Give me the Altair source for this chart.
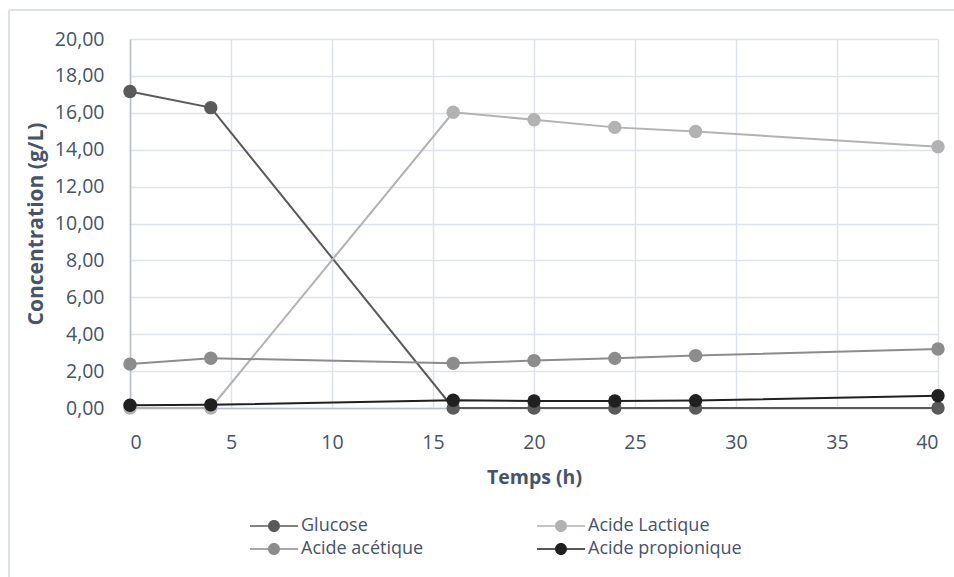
import altair as alt
import pandas as pd

# Sampling times (h)
temps = [0, 4, 16, 20, 24, 28, 40]

# Concentrations (g/L) per compound
glucose = [17.15, 16.28, 0.0, 0.0, 0.0, 0.0, 0.0]
acide_lactique = [0.0, 0.0, 16.03, 15.62, 15.21, 14.99, 14.16]
acide_acetique = [2.38, 2.70, 2.42, 2.57, 2.69, 2.84, 3.20]
acide_propionique = [0.15, 0.17, 0.42, 0.38, 0.38, 0.40, 0.66]

series_names = ["Glucose", "Acide Lactique", "Acide acétique", "Acide propionique"]
series_values = [glucose, acide_lactique, acide_acetique, acide_propionique]
series_colors = ["#5a5a5a", "#b2b2b2", "#8c8c8c", "#202020"]

rows = []
for order, (name, vals) in enumerate(zip(series_names, series_values)):
    for t, v in zip(temps, vals):
        rows.append({"Temps": t, "Concentration": v, "Serie": name, "ordre": order})
df = pd.DataFrame(rows)

FONT = "Open Sans"
TEXT = "#44546a"
FS = 19.5

x_enc = alt.X(
    "Temps:Q",
    scale=alt.Scale(domain=[0, 40], nice=False),
    axis=alt.Axis(
        title="Temps (h)",
        values=[0, 5, 10, 15, 20, 25, 30, 35, 40],
        labelPadding=25,
        titlePadding=17,
    ),
)
y_enc = alt.Y(
    "Concentration:Q",
    scale=alt.Scale(domain=[0, 20], nice=False),
    axis=alt.Axis(
        title="Concentration (g/L)",
        titleFontSize=21,
        values=[0, 2, 4, 6, 8, 10, 12, 14, 16, 18, 20],
        labelExpr="replace(format(datum.value, '.2f'), '.', ',')",
        labelPadding=26,
        titlePadding=8,
    ),
)

# legend glyph: short line with a dot in the middle
legend_symbol = (
    "M-4,-0.13 H-1 V0.13 H-4 Z "
    "M1,-0.13 H4 V0.13 H1 Z "
    "M1,0 A1,1 0 1,1 -1,0 A1,1 0 1,1 1,0 Z"
)

color_scale = alt.Scale(domain=series_names, range=series_colors)

base = alt.Chart(df)

lines = base.mark_line(strokeWidth=2).encode(
    x=x_enc,
    y=y_enc,
    detail="Serie:N",
    stroke=alt.Stroke("Serie:N", scale=color_scale, legend=None),
    order="Temps:Q",
)

points = base.mark_point(filled=True, size=180, opacity=1, strokeWidth=0).encode(
    x=x_enc,
    y=y_enc,
    fill=alt.Fill(
        "Serie:N",
        scale=color_scale,
        legend=alt.Legend(
            title=None,
            orient="none",
            legendX=135,
            legendY=478,
            columns=2,
            direction="horizontal",
            symbolType=legend_symbol,
            symbolSize=144,
            symbolOpacity=1,
            labelOffset=18,
            columnPadding=113,
            rowPadding=5,
            labelFont=FONT,
            labelFontSize=18,
            labelColor=TEXT,
            labelLimit=300,
        ),
    ),
)

# faint outer frame of the figure
frame = base.mark_rule(color="#dde1e8", strokeWidth=1.5, clip=False).encode(
    x=alt.value(-121), x2=alt.value(900), y=alt.value(-29)
)
frame_left = base.mark_rule(color="#dde1e8", strokeWidth=1.5, clip=False).encode(
    x=alt.value(-121), y=alt.value(-29), y2=alt.value(600)
)

chart = (
    alt.layer(frame, frame_left, lines, points)
    .resolve_scale(fill="independent", stroke="independent")
    .properties(
        width=808,
        height=369,
        autosize=alt.AutoSizeParams(type="none"),
        padding={"left": 130, "top": 39, "right": 16, "bottom": 169},
        background="white",
    )
    .configure_view(stroke=None)
    .configure_axis(
        labelFont=FONT,
        labelFontSize=FS,
        labelColor=TEXT,
        titleFont=FONT,
        titleFontSize=FS,
        titleFontWeight="bold",
        titleColor=TEXT,
        grid=True,
        gridColor="#dee2ea",
        gridWidth=1.5,
        ticks=False,
        domainColor="#b4c0d0",
        domainWidth=1.5,
    )
)

chart.save("out.html", embed_options={"renderer": "svg", "actions": False})
